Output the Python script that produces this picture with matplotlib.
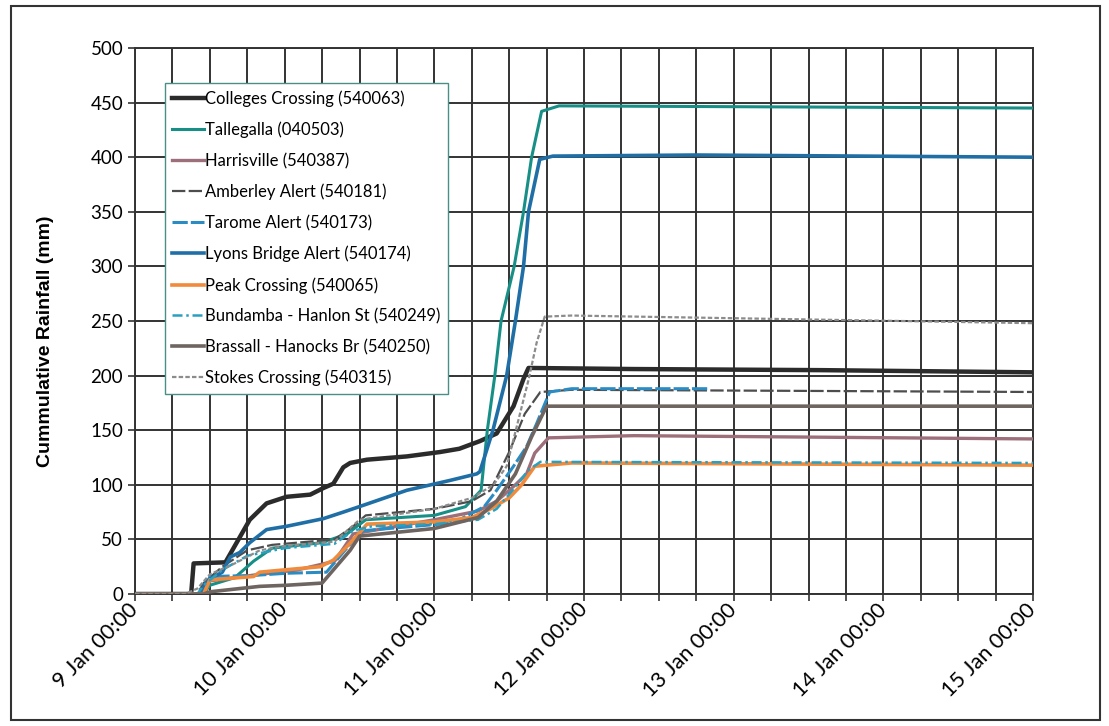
import numpy as np
import matplotlib
matplotlib.use('Agg')
import matplotlib.pyplot as plt
import matplotlib.dates as mdates
from matplotlib.patches import Rectangle
from matplotlib.ticker import FuncFormatter, MultipleLocator

# hours after 9 Jan 00:00, cumulative rainfall in mm
colleges_h = [0, 9.0, 9.4, 14.5, 16.8, 18.4, 21.1, 24.3, 28.1, 30.2, 31.8, 33.4, 34.5, 37.2, 43.6, 48.9, 52, 55.3, 58.0, 60.7, 62.3, 63.1, 80, 110, 144]
colleges_mm = [0, 0, 28, 29, 52, 68, 83, 89, 91, 97, 101, 116, 120, 123, 126, 130, 133, 140, 147, 172, 197, 207, 206, 205, 203]

tallegalla_h = [0, 11, 12, 16, 19, 22, 30, 34, 37, 48, 53, 55.5, 56.5, 57.7, 58.7, 60.8, 62.3, 63.6, 65.2, 68, 144]
tallegalla_mm = [0, 0, 8, 15, 30, 42, 47, 55, 68, 72, 80, 95, 150, 200, 250, 300, 350, 400, 442, 447, 445]

harrisville_h = [0, 11, 12, 20, 26, 32, 35, 48, 55, 58, 61, 62.8, 64.1, 66.3, 80, 144]
harrisville_mm = [0, 0, 12, 18, 22, 30, 55, 68, 76, 85, 100, 110, 129, 143, 145, 142]

amberley_h = [0, 10, 11, 14, 18, 22, 32, 35, 37, 48, 54, 57, 60, 62.5, 65, 70, 144]
amberley_mm = [0, 0, 10, 25, 40, 45, 50, 62, 72, 78, 85, 95, 130, 165, 185, 187, 185]

tarome_h = [0, 11, 12, 19, 24.3, 30.7, 35, 36.6, 51, 56, 58, 60.7, 62.8, 64.4, 66.5, 70, 92]
tarome_mm = [0, 0, 16, 17, 19, 20, 49, 58, 65, 80, 95, 117, 135, 156, 185, 188, 188]

lyons_h = [0, 10.5, 11.5, 14, 15.3, 16.8, 18.4, 21.1, 24.3, 30.2, 33.4, 37, 43.6, 50.5, 54.8, 55.3, 57.4, 59.6, 61.0, 62.3, 63.1, 64.9, 67, 90, 144]
lyons_mm = [0, 0, 12, 20, 34, 38, 47, 59, 62, 69, 75, 82, 95, 104, 110, 112, 150, 200, 250, 300, 350, 398, 401, 402, 400]

peak_h = [0, 11, 12, 19, 20, 23.8, 29.7, 31.8, 33.9, 36, 37.2, 48, 54, 57, 60, 62, 64.1, 70, 144]
peak_mm = [0, 0, 13, 16, 20, 22, 25, 31, 43, 56, 64, 66, 70, 78, 88, 100, 117, 120, 118]

bundamba_h = [0, 10, 11, 14, 18, 24, 32, 35, 38, 48, 55, 58, 61, 63, 65, 144]
bundamba_mm = [0, 0, 8, 22, 35, 42, 46, 58, 62, 64, 68, 78, 98, 113, 121, 120]

brassall_h = [0, 11, 12, 20, 24.3, 30, 34.5, 36, 48, 55, 58, 61, 63.6, 66, 144]
brassall_mm = [0, 0, 2, 7, 8, 10, 40, 53, 60, 70, 85, 110, 144, 172, 172]

stokes_h = [0, 8, 10, 12, 16, 20, 24, 32, 36, 48, 54, 57.5, 59.6, 61.2, 63.1, 64.4, 65.7, 70, 144]
stokes_mm = [0, 0, 5, 18, 28, 40, 44, 48, 68, 78, 88, 100, 117, 153, 196, 230, 254, 255, 248]

start = np.datetime64('2011-01-09T00:00')


def to_time(hours):
    return start + (np.array(hours) * 60).round().astype('timedelta64[m]')


fig = plt.figure(figsize=(11.09, 7.26), dpi=100)
ax = fig.add_axes([135 / 1109, 1 - 594 / 726, 898 / 1109, 546 / 726])

series = [
    ('Colleges Crossing (540063)', colleges_h, colleges_mm, '#2b2b2b', 3.2, '-'),
    ('Tallegalla (040503)', tallegalla_h, tallegalla_mm, '#178f86', 2.2, '-'),
    ('Harrisville (540387)', harrisville_h, harrisville_mm, '#9c6f7a', 2.4, '-'),
    ('Amberley Alert (540181)', amberley_h, amberley_mm, '#4d4d4d', 1.6, (0, (6, 1.5))),
    ('Tarome Alert (540173)', tarome_h, tarome_mm, '#2b8cc4', 2.2, (0, (5, 1))),
    ('Lyons Bridge Alert (540174)', lyons_h, lyons_mm, '#1f6fa6', 2.6, '-'),
    ('Peak Crossing (540065)', peak_h, peak_mm, '#f08a3c', 2.6, '-'),
    ('Bundamba - Hanlon St (540249)', bundamba_h, bundamba_mm, '#2aa0c0', 1.8, (0, (4, 1.5, 1, 1.5))),
    ('Brassall - Hanocks Br (540250)', brassall_h, brassall_mm, '#6e6460', 2.6, '-'),
    ('Stokes Crossing (540315)', stokes_h, stokes_mm, '#8c8c8c', 1.6, (0, (2, 1))),
]

for label, h, mm, color, lw, ls in series:
    ax.plot(to_time(h), mm, color=color, lw=lw, ls=ls, label=label, zorder=3)

ax.set_xlim(start, start + np.timedelta64(6, 'D'))
ax.set_ylim(0, 500)
ax.yaxis.set_major_locator(MultipleLocator(50))
ax.xaxis.set_major_locator(mdates.DayLocator())
ax.xaxis.set_minor_locator(mdates.HourLocator(byhour=[6, 12, 18]))
ax.xaxis.set_major_formatter(FuncFormatter(
    lambda v, p: f"{mdates.num2date(v).day} Jan {mdates.num2date(v):%H:%M}"))

grid_col = '#333333'
ax.grid(True, which='both', axis='x', color=grid_col, lw=1.4, zorder=1)
ax.grid(True, which='major', axis='y', color=grid_col, lw=1.4, zorder=1)
ax.set_axisbelow(True)
for s in ax.spines.values():
    s.set_color(grid_col)
    s.set_linewidth(1.4)

tick_font = ['Lato', 'DejaVu Sans']
ax.tick_params(axis='both', which='both', direction='out', color=grid_col, length=5, width=1.2)
ax.tick_params(axis='x', which='major', pad=4)
for t in ax.get_yticklabels():
    t.set_fontfamily(tick_font)
    t.set_fontsize(13.5)
for t in ax.get_xticklabels():
    t.set_fontfamily(tick_font)
    t.set_fontsize(15.5)
    t.set_rotation(45)
    t.set_ha('right')
    t.set_va('center')
    t.set_rotation_mode('anchor')

ax.set_ylabel('Cummulative Rainfall (mm)', fontsize=14, fontweight='bold',
              family=['Liberation Sans', 'DejaVu Sans'])
ax.yaxis.set_label_coords(-0.09, 0.463)

leg = ax.legend(loc='upper left', bbox_to_anchor=(0.033, 0.936), borderaxespad=0,
                prop={'family': tick_font, 'size': 12}, handlelength=1.9,
                handletextpad=0.1, labelspacing=0.88, borderpad=0.45,
                fancybox=False, framealpha=1)
leg.get_frame().set_edgecolor('#4a8f86')
leg.get_frame().set_linewidth(1.0)

fig.patches.append(Rectangle((11 / 1109, 6 / 726), 1089 / 1109, 714 / 726,
                             transform=fig.transFigure, fill=False,
                             ec='#333333', lw=1.5))

fig.savefig('out.png', dpi=100)
